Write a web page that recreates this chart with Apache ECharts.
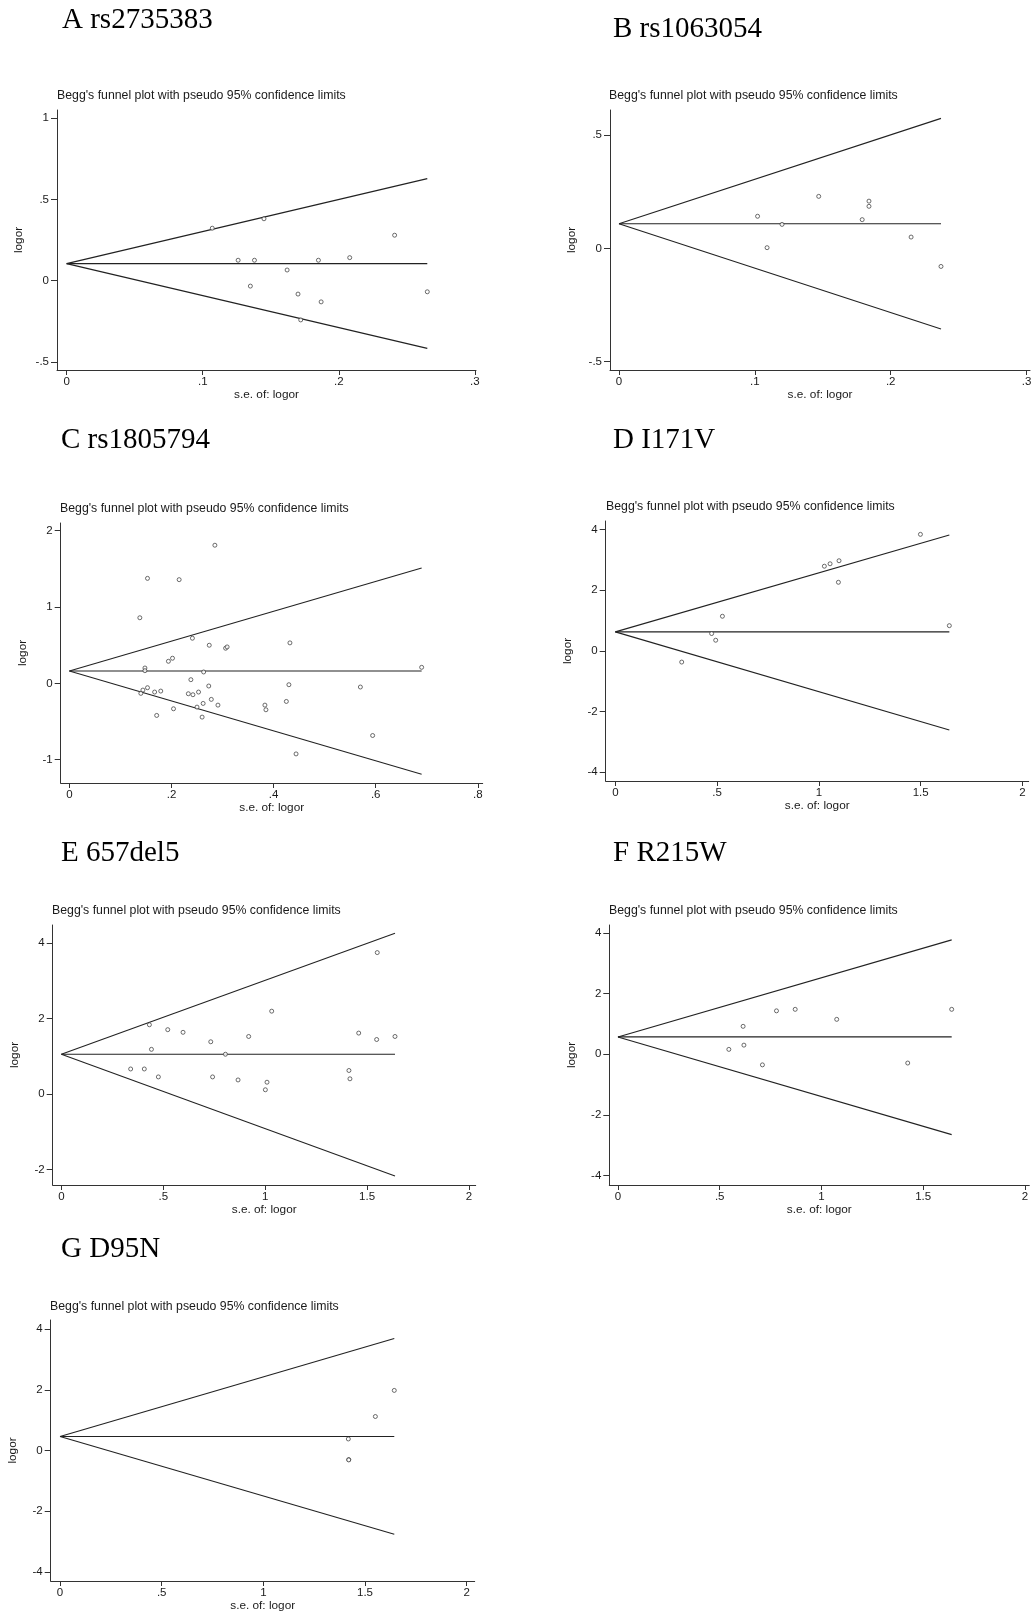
<!DOCTYPE html>
<html>
<head>
<meta charset="utf-8">
<script src="https://cdn.jsdelivr.net/npm/echarts@6/dist/echarts.min.js"></script>
<style>
html,body{margin:0;padding:0;background:#fff;}
#chart{width:1031px;height:1611px;}
</style>
</head>
<body>
<div id="chart"></div>
<script>
// ---------- DATA ----------
const panelNames = ['A rs2735383', 'B rs1063054', 'C rs1805794', 'D I171V', 'E 657del5', 'F R215W', 'G D95N'];
const plotSubtitle = "Begg's funnel plot with pseudo 95% confidence limits";
const xAxisName = 's.e. of: logor';
const yAxisName = 'logor';

// points: [s.e. of logor, logor]
const pointsA = [[0.107,0.323],[0.145,0.381],[0.126,0.126],[0.138,0.126],[0.185,0.126],[0.208,0.142],[0.241,0.280],[0.162,0.066],[0.135,-0.033],[0.170,-0.082],[0.187,-0.130],[0.172,-0.241],[0.265,-0.068]];
const pointsB = [[0.147,0.230],[0.184,0.209],[0.184,0.186],[0.102,0.142],[0.179,0.127],[0.120,0.106],[0.109,0.003],[0.215,0.050],[0.237,-0.080]];
const pointsC = [[0.285,1.809],[0.153,1.375],[0.215,1.358],[0.138,0.859],[0.241,0.591],[0.274,0.499],[0.306,0.460],[0.309,0.477],[0.432,0.530],[0.202,0.329],[0.194,0.289],[0.148,0.201],[0.148,0.166],[0.263,0.149],[0.690,0.210],[0.238,0.048],[0.273,-0.035],[0.430,-0.018],[0.570,-0.048],[0.153,-0.057],[0.144,-0.088],[0.140,-0.131],[0.167,-0.114],[0.179,-0.101],[0.233,-0.136],[0.242,-0.149],[0.253,-0.114],[0.278,-0.210],[0.262,-0.263],[0.291,-0.285],[0.250,-0.311],[0.383,-0.285],[0.385,-0.346],[0.425,-0.237],[0.204,-0.333],[0.171,-0.420],[0.260,-0.442],[0.594,-0.683],[0.444,-0.924]];
const pointsD = [[1.499,3.84],[1.099,2.97],[1.055,2.87],[1.027,2.79],[1.096,2.26],[0.526,1.14],[1.641,0.83],[0.473,0.57],[0.493,0.35],[0.326,-0.37]];
const pointsE = [[1.550,3.74],[1.032,2.19],[0.432,1.83],[0.522,1.70],[0.597,1.63],[1.459,1.61],[0.919,1.52],[1.637,1.52],[1.547,1.44],[0.733,1.38],[0.442,1.18],[0.805,1.05],[0.340,0.66],[0.407,0.66],[1.411,0.62],[0.476,0.45],[0.742,0.45],[1.416,0.40],[0.867,0.37],[1.009,0.31],[1.001,0.11]];
const pointsF = [[0.779,1.43],[0.871,1.48],[1.640,1.48],[1.075,1.15],[0.615,0.92],[0.619,0.30],[0.545,0.16],[0.710,-0.35],[1.424,-0.29]];
const pointsG = [[1.644,1.98],[1.551,1.12],[1.418,0.38],[1.420,-0.30],[1.420,-0.31]];

// funnel: [pooled logor, max s.e., upper limit at max s.e., lower limit at max s.e.]
const funnelA = [0.105, 0.265, 0.628, -0.416];
const funnelB = [0.109, 0.237, 0.575, -0.357];
const funnelC = [0.162, 0.690, 1.511, -1.191];
const funnelD = [0.626, 1.641, 3.82, -2.61];
const funnelE = [1.048, 1.637, 4.25, -2.17];
const funnelF = [0.571, 1.640, 3.77, -2.65];
const funnelG = [0.462, 1.644, 3.69, -2.76];

// tick labels
const xTicksA = [0, 0.1, 0.2, 0.3];
const yTicksA = [-0.5, 0, 0.5, 1];
const xTicksB = [0, 0.1, 0.2, 0.3];
const yTicksB = [-0.5, 0, 0.5];
const xTicksC = [0, 0.2, 0.4, 0.6, 0.8];
const yTicksC = [-1, 0, 1, 2];
const xTicksD = [0, 0.5, 1, 1.5, 2];
const yTicksD = [-4, -2, 0, 2, 4];
const xTicksE = [0, 0.5, 1, 1.5, 2];
const yTicksE = [-2, 0, 2, 4];
const xTicksF = [0, 0.5, 1, 1.5, 2];
const yTicksF = [-4, -2, 0, 2, 4];
const xTicksG = [0, 0.5, 1, 1.5, 2];
const yTicksG = [-4, -2, 0, 2, 4];

// ---------- LAYOUT ----------
const layout = [
  {grid:[57,110,419,260],   x:[-0.0071,0.3008], y:[-0.549,1.05], title:[62,5.5],    sub:[57,89.5]},
  {grid:[610,110,420,260],  x:[-0.0066,0.3025], y:[-0.538,0.612], title:[613,14.5], sub:[609,89.5]},
  {grid:[60.7,523,422,260], x:[-0.017,0.8096],  y:[-1.305,2.10], title:[61,425.5],  sub:[60,502.5]},
  {grid:[605.7,521,423,260],x:[-0.0475,2.031],  y:[-4.29,4.28],  title:[613,425.5], sub:[606,500.5]},
  {grid:[52.7,925,423,260], x:[-0.0425,2.033],  y:[-2.41,4.47],  title:[61,839],  sub:[52,904.5]},
  {grid:[609.3,925,420,260],x:[-0.0425,2.0214], y:[-4.31,4.26],  title:[613,838.5], sub:[609,904.5]},
  {grid:[50.7,1320,424,261],x:[-0.046,2.0396],  y:[-4.30,4.30],  title:[61,1234.5], sub:[50,1300.5]}
];

const allPoints = [pointsA, pointsB, pointsC, pointsD, pointsE, pointsF, pointsG];
const allFunnels = [funnelA, funnelB, funnelC, funnelD, funnelE, funnelF, funnelG];
const allXTicks = [xTicksA, xTicksB, xTicksC, xTicksD, xTicksE, xTicksF, xTicksG];
const allYTicks = [yTicksA, yTicksB, yTicksC, yTicksD, yTicksE, yTicksF, yTicksG];

function stataFmt(v){
  let s = String(+(+v).toFixed(4));
  return s.replace(/^(-?)0\./, '$1.');
}

const ink = '#1a1a1a';
const sansFont = 'Liberation Sans, Arial, sans-serif';
const serifFont = 'Liberation Serif, Times New Roman, serif';

const option = {
  backgroundColor: '#fff',
  animation: false,
  title: [], grid: [], xAxis: [], yAxis: [], series: []
};

layout.forEach((L, i) => {
  option.title.push({
    text: panelNames[i], left: L.title[0], top: L.title[1], padding: 0,
    textStyle: {fontFamily: serifFont, fontSize: 29, fontWeight: 'normal', color: '#000'}
  });
  option.title.push({
    text: plotSubtitle, left: L.sub[0], top: L.sub[1], padding: 0,
    textStyle: {fontFamily: sansFont, fontSize: 12.3, fontWeight: 'normal', color: ink}
  });
  option.grid.push({
    left: L.grid[0], top: L.grid[1], width: L.grid[2], height: L.grid[3],
    containLabel: false, outerBoundsMode: 'none'
  });
  const tickLabel = {fontFamily: sansFont, fontSize: 11.5, color: ink, formatter: stataFmt};
  option.xAxis.push({
    type: 'value', gridIndex: i, min: L.x[0], max: L.x[1],
    name: xAxisName, nameLocation: 'middle', nameGap: 17,
    nameTextStyle: {fontFamily: sansFont, fontSize: 11.8, color: ink},
    axisLine: {show: true, onZero: false, lineStyle: {color: '#333', width: 1}},
    axisTick: {show: true, length: 5, lineStyle: {color: '#333'}, customValues: allXTicks[i]},
    axisLabel: Object.assign({margin: 6, customValues: allXTicks[i], showMinLabel: true, showMaxLabel: true}, tickLabel),
    splitLine: {show: false}
  });
  option.yAxis.push({
    type: 'value', gridIndex: i, min: L.y[0], max: L.y[1],
    name: yAxisName, nameLocation: 'middle', nameGap: 32,
    nameTextStyle: {fontFamily: sansFont, fontSize: 11.8, color: ink},
    axisLine: {show: true, onZero: false, lineStyle: {color: '#333', width: 1}},
    axisTick: {show: true, length: 6, lineStyle: {color: '#333'}, customValues: allYTicks[i]},
    axisLabel: Object.assign({margin: 8, customValues: allYTicks[i]}, tickLabel),
    splitLine: {show: false}
  });
  const f = allFunnels[i];
  const lineCommon = {type: 'line', xAxisIndex: i, yAxisIndex: i, symbol: 'none', silent: true,
    lineStyle: {color: '#222', width: 1.1}, z: 2};
  option.series.push(Object.assign({data: [[0, f[0]], [f[1], f[2]]]}, lineCommon));
  option.series.push(Object.assign({data: [[0, f[0]], [f[1], f[0]]]}, lineCommon));
  option.series.push(Object.assign({data: [[0, f[0]], [f[1], f[3]]]}, lineCommon));
  option.series.push({
    type: 'scatter', xAxisIndex: i, yAxisIndex: i, data: allPoints[i],
    symbol: 'circle', symbolSize: 4, z: 3,
    itemStyle: {color: '#fff', borderColor: '#333', borderWidth: 0.9}
  });
});

const chart = echarts.init(document.getElementById('chart'), null, {renderer: 'canvas'});
chart.setOption(option);
</script>
</body>
</html>
